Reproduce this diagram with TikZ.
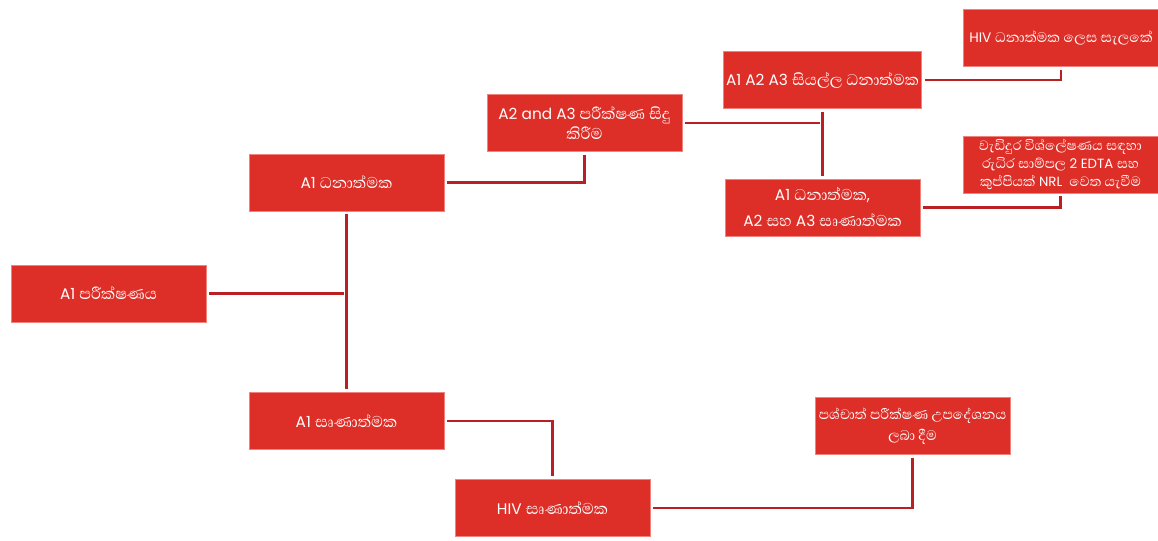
\documentclass[tikz,border=0pt]{standalone}
\usepackage{fontspec}
\setmainfont{Poppins}
\newfontfamily\si[Script=Sinhala,Scale=1.3]{Abhaya Libre}
\definecolor{boxred}{RGB}{222,46,40}
\definecolor{boxrim}{RGB}{240,130,125}
\definecolor{linered}{RGB}{186,31,36}
\tikzset{
  box/.style={draw=boxrim,line width=.5pt,fill=boxred,text=white,minimum width=146.25pt,
    minimum height=42.75pt,align=center,inner sep=2pt,font=\fontsize{11.5}{15}\selectfont},
  conn/.style={draw=linered,line width=2pt,shorten <=2.2pt,shorten >=2.2pt}
}
\begin{document}
\begin{tikzpicture}[x=0.75pt,y=-0.75pt]
\useasboundingbox (0,0) rectangle (1158,540);
\node[box] (test) at (108.5,293.5) {A1 {\si පරීක්ෂණය}};
\node[box] (apos) at (346.5,182.5) {A1 {\si ධනාත්මක}};
\node[box] (aneg) at (346.5,421) {A1 {\si සෘණාත්මක}};
\node[box] (sec) at (584.5,123) {A2 and A3 {\si පරීක්ෂණ සිදු}\\{\si කිරීම}};
\node[box] (allpos) at (822.5,80) {A1 A2 A3 {\si සියල්ල ධනාත්මක}};
\node[box,font=\fontsize{11.5}{19.5}\selectfont] (mixed) at (822.5,207.5)
  {A1 {\si ධනාත්මක},\\A2 {\si සහ} A3 {\si සෘණාත්මක}};
\node[box,minimum width=147pt,font=\fontsize{10.3}{14}\selectfont] (hivpos) at (1061,38)
  {HIV {\si ධනාත්මක ලෙස සැලකේ}};
\node[box,font=\fontsize{10}{13.5}\selectfont] (nrl) at (1060.5,164.5)
  {{\si වැඩිදුර විශ්ලේෂණය සඳහා}\\{\si රුධිර සාම්පල} 2 EDTA {\si සහ}\\{\si කුප්පියක්} NRL~ {\si වෙත යැවීම}};
\node[box] (hivneg) at (552.5,508) {HIV {\si සෘණාත්මක}};
\node[box,font=\fontsize{10.2}{15.5}\selectfont] (counsel) at (912.5,426)
  {{\si පශ්චාත් පරීක්ෂණ උපදේශනය}\\{\si ලබා දීම}};

\draw[conn] (test.east)--(test.east-|apos.south);
\draw[conn] (apos.south)--(aneg.north);
\draw[conn] (apos.east)-|(sec.south);
\draw[conn] (sec.east)--(sec.east-|allpos.south);
\draw[conn] (allpos.south)--(mixed.north);
\draw[conn] (allpos.east)-|(hivpos.south);
\draw[conn] (mixed.east)-|(nrl.south);
\draw[conn] (aneg.east)-|(hivneg.north);
\draw[conn] (hivneg.east)-|(counsel.south);
\end{tikzpicture}
\end{document}
